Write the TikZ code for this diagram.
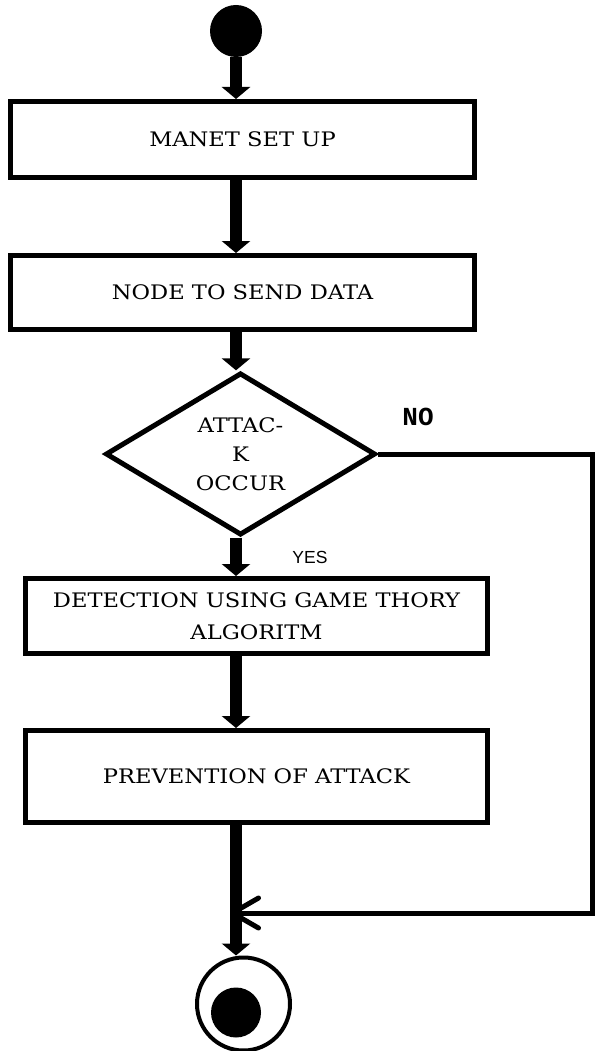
\documentclass[tikz,border=0pt]{standalone}
\usepackage{fontspec}
\usepackage{tikz}
\usetikzlibrary{shapes.geometric,arrows.meta}
\newfontfamily\boxfont[FakeStretch=1.13]{DejaVu Serif}
\newfontfamily\nofont{Liberation Mono}
\newfontfamily\yesfont{Liberation Sans}

\begin{document}
\begin{tikzpicture}[x=1pt,y=-1pt,
    box/.style={draw, line width=5pt, rectangle, inner sep=0pt, align=center,
      font={\boxfont\fontsize{20}{32}\selectfont}},
    decision/.style={draw, line width=5pt, diamond, inner sep=0pt, align=center,
      minimum width=270pt, minimum height=146pt,
      font={\boxfont\fontsize{20}{29}\selectfont}},
    flow/.style={line width=12pt, -{Triangle[width=28pt,length=12pt]}},
    noflow/.style={line width=5pt, -{Straight Barb[length=26pt,width=30pt,round]}}]
    \useasboundingbox (0,0) rectangle (596,1051);
    % start and end
    \node[circle, fill, minimum size=52pt, inner sep=0pt] (start) at (236,31) {};
    \node[circle, draw, line width=4pt, minimum size=93pt, inner sep=0pt] (stopring) at (243.5,1004) {};
    \node[circle, fill, minimum size=50pt, inner sep=0pt] (stopdot) at (236,1012.5) {};
    % steps
    \node[box, minimum width=464pt, minimum height=76pt] (setup) at (242.5,139.5) {MANET SET UP};
    \node[box, minimum width=464pt, minimum height=74pt] (send) at (242.5,292.5) {NODE TO SEND DATA};
    \node[decision] (attack) at (240.5,454) {ATTAC-\\K\\OCCUR};
    \node[box, minimum width=462pt, minimum height=75pt] (detect) at (256.5,616) {DETECTION USING GAME THORY\\ALGORITM};
    \node[box, minimum width=462pt, minimum height=92pt] (prevent) at (256.5,776.5) {PREVENTION OF ATTACK};
    % labels
    \node[font={\nofont\bfseries\fontsize{26}{30}\selectfont}] (nolabel) at (418,417) {NO};
    \node[font={\yesfont\fontsize{17.5}{20}\selectfont}] (yeslabel) at (310,557) {YES};
    % no branch
    \coordinate (noturn) at (592,913);
    \coordinate (merge) at (230,913);
    \draw[noflow] (attack.east) -| (noturn) -- (merge);
    % main flow
    \draw[flow] (start) -- (start |- setup.north);
    \draw[flow] (start |- setup.south) -- (start |- send.north);
    \draw[flow] (start |- send.south) -- (start |- attack.north);
    \draw[flow] (start |- attack.south) -- (start |- detect.north);
    \draw[flow] (start |- detect.south) -- (start |- prevent.north);
    \draw[flow] (start |- prevent.south) -- (start |- stopring.north);
\end{tikzpicture}
\end{document}
